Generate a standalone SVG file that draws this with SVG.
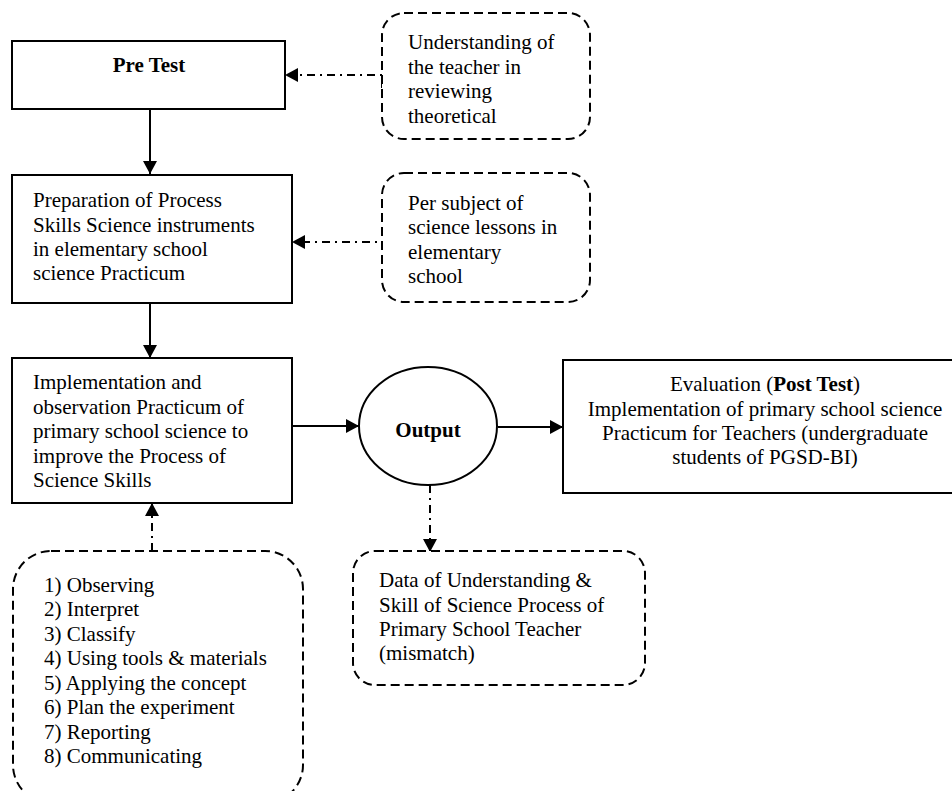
<svg xmlns="http://www.w3.org/2000/svg" width="952" height="791" viewBox="0 0 952 791">
<style>
text { font-size: 21px; fill: #000; }
.b { font-weight: bold; }
.box { fill: #fff; stroke: #000; stroke-width: 2; }
.dbox { fill: #fff; stroke: #000; stroke-width: 2; stroke-dasharray: 9 5; }
.solid { stroke: #000; stroke-width: 2; fill: none; }
.dd { stroke: #000; stroke-width: 2; fill: none; stroke-dasharray: 8 5 2 5; }
</style>
<defs>
<marker id="ah" markerWidth="14" markerHeight="14" refX="13" refY="7" orient="auto" markerUnits="userSpaceOnUse">
<path d="M0,0 L13,7 L0,14 Z" fill="#000"/>
</marker>
</defs>
<g id="connectors">
<line class="solid" x1="150" y1="109" x2="150" y2="174" marker-end="url(#ah)"/>
<line class="solid" x1="150" y1="303" x2="150" y2="358" marker-end="url(#ah)"/>
<line class="solid" x1="292" y1="426" x2="359" y2="426" marker-end="url(#ah)"/>
<line class="solid" x1="498" y1="427" x2="563" y2="427" marker-end="url(#ah)"/>
<polyline class="dd" points="382,88 382,75 285,75" marker-end="url(#ah)"/>
<polyline class="dd" points="382,250 382,242 292,242" marker-end="url(#ah)"/>
<polyline class="dd" points="152,551 152,503" marker-end="url(#ah)"/>
<line class="dd" x1="430" y1="485" x2="430" y2="552" marker-end="url(#ah)"/>
</g>
<g font-family="Liberation Serif, Times New Roman, DejaVu Serif, serif">
<g id="pretest">
<rect class="box" x="12" y="41" width="273" height="68"/>
<text class="b" x="149" y="72" text-anchor="middle">Pre Test</text>
</g>
<g id="understanding">
<rect class="dbox" x="382" y="13" width="208" height="126" rx="22"/>
<text x="408" y="49">Understanding of</text>
<text x="408" y="74">the teacher in</text>
<text x="408" y="98">reviewing</text>
<text x="408" y="123">theoretical</text>
</g>
<g id="preparation">
<rect class="box" x="12" y="175" width="280" height="128"/>
<text x="33" y="207">Preparation of Process</text>
<text x="33" y="232">Skills Science instruments</text>
<text x="33" y="256">in elementary school</text>
<text x="33" y="280">science Practicum</text>
</g>
<g id="persubject">
<rect class="dbox" x="382" y="173" width="208" height="129" rx="22"/>
<text x="408" y="210">Per subject of</text>
<text x="408" y="234">science lessons in</text>
<text x="408" y="259">elementary</text>
<text x="408" y="283">school</text>
</g>
<g id="implementation">
<rect class="box" x="12" y="358" width="280" height="145"/>
<text x="33" y="389">Implementation and</text>
<text x="33" y="414">observation Practicum of</text>
<text x="33" y="438">primary school science to</text>
<text x="33" y="463">improve the Process of</text>
<text x="33" y="487">Science Skills</text>
</g>
<g id="output">
<ellipse class="box" cx="428" cy="426" rx="69" ry="59"/>
<text class="b" x="428" y="437" text-anchor="middle">Output</text>
</g>
<g id="evaluation">
<rect class="box" x="563" y="360" width="400" height="133"/>
<text x="765" y="391" text-anchor="middle">Evaluation (<tspan class="b">Post Test</tspan>)</text>
<text x="765" y="416" text-anchor="middle">Implementation of primary school science</text>
<text x="765" y="440" text-anchor="middle">Practicum for Teachers (undergraduate</text>
<text x="765" y="464" text-anchor="middle">students of PGSD-BI)</text>
</g>
<g id="data">
<rect class="dbox" x="353" y="551" width="292" height="134" rx="22"/>
<text x="379" y="587">Data of Understanding &amp;</text>
<text x="379" y="612">Skill of Science Process of</text>
<text x="379" y="636">Primary School Teacher</text>
<text x="379" y="660">(mismatch)</text>
</g>
<g id="skills">
<rect class="dbox" x="13" y="551" width="290" height="252" rx="38"/>
<text x="44" y="592">1) Observing</text>
<text x="44" y="616">2) Interpret</text>
<text x="44" y="641">3) Classify</text>
<text x="44" y="665">4) Using tools &amp; materials</text>
<text x="44" y="690">5) Applying the concept</text>
<text x="44" y="714">6) Plan the experiment</text>
<text x="44" y="739">7) Reporting</text>
<text x="44" y="763">8) Communicating</text>
</g>
</g>
</svg>
